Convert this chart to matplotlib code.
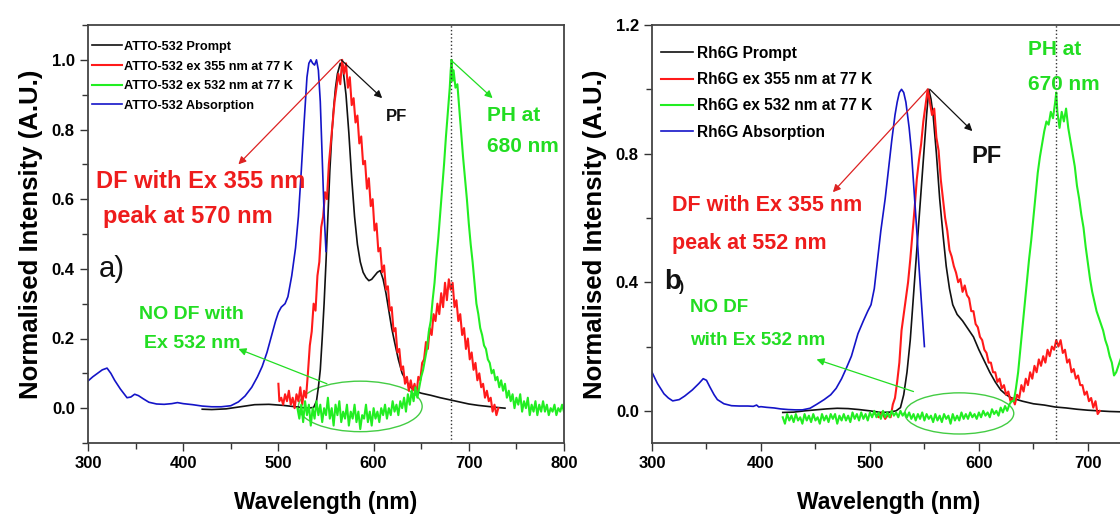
import matplotlib
matplotlib.use("Agg")
import matplotlib.pyplot as plt
from matplotlib.patches import Ellipse
from matplotlib.ticker import MultipleLocator

plt.rcParams['font.family'] = ['Liberation Sans', 'DejaVu Sans']
plt.rcParams['font.weight'] = 'bold'

# ===== panel a) ATTO-532 =====
atto_abs_nm = [300, 305, 310, 315, 320, 324, 328, 334, 341, 345, 349, 353, 358, 364, 372, 380, 388, 394, 400,
               410, 420, 430, 440, 450, 458, 465, 472, 478, 483, 488, 493, 497, 500, 503, 507, 510, 514, 518,
               521, 524, 527, 530, 532, 534, 536, 538, 540, 542, 544, 546, 548, 550]
atto_abs = [0.078, 0.09, 0.10, 0.11, 0.115, 0.10, 0.08, 0.055, 0.03, 0.032, 0.04, 0.036, 0.027, 0.017, 0.012,
            0.011, 0.013, 0.016, 0.013, 0.010, 0.006, 0.004, 0.004, 0.007, 0.018, 0.035, 0.06, 0.09, 0.12, 0.16,
            0.21, 0.25, 0.275, 0.29, 0.30, 0.32, 0.38, 0.46, 0.55, 0.68, 0.82, 0.95, 0.99, 1.0, 0.99, 0.985, 1.0,
            0.97, 0.88, 0.72, 0.56, 0.45]

atto_prompt_nm = [420, 430, 445, 460, 475, 490, 505, 518, 530, 537, 540, 542, 544, 546, 548, 550, 552, 554, 556,
                  558, 560, 562, 565, 568, 571, 574, 577, 580, 583, 586, 589, 592, 595, 598, 601, 604, 607, 610,
                  613, 616, 619, 622, 626, 630, 635, 640, 645, 650, 660, 670, 680, 690, 700, 710, 720, 730, 738]
atto_prompt = [-0.003, -0.004, -0.002, 0.004, 0.010, 0.011, 0.008, 0.004, 0.0, 0.002, 0.02, 0.06, 0.11, 0.20,
               0.30, 0.42, 0.55, 0.68, 0.78, 0.86, 0.92, 0.96, 0.99, 0.97, 0.90, 0.79, 0.66, 0.55, 0.47, 0.42,
               0.39, 0.375, 0.366, 0.37, 0.38, 0.39, 0.395, 0.37, 0.33, 0.28, 0.23, 0.19, 0.14, 0.10, 0.075,
               0.057, 0.048, 0.043, 0.037, 0.030, 0.024, 0.018, 0.012, 0.008, 0.005, 0.002, 0.0]

atto_355_nm = [500, 501, 503, 505, 507, 509, 511, 513, 515, 517, 519, 521, 523, 525, 527, 529, 531, 533, 535,
               537, 539, 541, 543, 545, 547, 549, 551, 553, 555, 557, 559, 561, 563, 565, 567, 569, 571, 573,
               575, 577, 579, 581, 583, 585, 587, 589, 591, 593, 595, 597, 599, 601, 603, 605, 607, 609, 611,
               613, 615, 617, 619, 621, 623, 625, 627, 629, 631, 633, 635, 637, 639, 641, 643, 645, 647, 649,
               651, 653, 655, 657, 659, 661, 663, 665, 667, 669, 671, 673, 675, 677, 679, 681, 683, 685, 687,
               689, 691, 693, 695, 697, 699, 701, 703, 705, 707, 709, 711, 713, 715, 717, 719, 721, 723, 725,
               727, 729, 731]
atto_355 = [0.07, 0.02, 0.03, 0.01, 0.04, 0.02, 0.05, 0.01, 0.03, 0.0, 0.04, 0.02, 0.06, 0.01, 0.05, 0.03, 0.10,
            0.18, 0.22, 0.30, 0.28, 0.38, 0.42, 0.52, 0.55, 0.62, 0.60, 0.70, 0.76, 0.82, 0.88, 0.92, 0.96, 0.93,
            1.0, 0.96, 0.99, 0.92, 0.95, 0.87, 0.89, 0.82, 0.84, 0.76, 0.78, 0.70, 0.71, 0.63, 0.66, 0.58, 0.60,
            0.51, 0.53, 0.45, 0.46, 0.39, 0.41, 0.34, 0.35, 0.28, 0.29, 0.22, 0.23, 0.16, 0.17, 0.11, 0.12, 0.07,
            0.09, 0.05, 0.08, 0.05, 0.07, 0.04, 0.09, 0.08, 0.13, 0.14, 0.19, 0.17, 0.23, 0.21, 0.27, 0.25, 0.30,
            0.27, 0.33, 0.29, 0.36, 0.31, 0.37, 0.34, 0.36, 0.29, 0.31, 0.25, 0.27, 0.21, 0.23, 0.17, 0.20, 0.14,
            0.16, 0.11, 0.13, 0.08, 0.10, 0.06, 0.07, 0.03, 0.05, 0.02, 0.03, -0.01, 0.01, -0.02, 0.0]

atto_532_nm = [520, 522, 524, 526, 528, 530, 532, 534, 536, 538, 540, 542, 544, 546, 548, 550, 552, 554, 556,
               558, 560, 562, 564, 566, 568, 570, 572, 574, 576, 578, 580, 582, 584, 586, 588, 590, 592, 594,
               596, 598, 600, 602, 604, 606, 608, 610, 612, 614, 616, 618, 620, 622, 624, 626, 628, 630, 632,
               634, 636, 638, 640, 642, 644, 646, 648, 650, 652, 654, 656, 658, 660, 662, 664, 666, 668, 670,
               672, 674, 676, 678, 680, 681, 682, 683, 684, 686, 688, 690, 692, 694, 696, 698, 700, 702, 704,
               706, 708, 710, 712, 714, 716, 718, 720, 722, 724, 726, 728, 730, 732, 734, 736, 738, 740, 742,
               744, 746, 748, 750, 752, 754, 756, 758, 760, 762, 764, 766, 768, 770, 772, 774, 776, 778, 780,
               782, 784, 786, 788, 790, 792, 794, 796, 798, 800]
atto_532 = [0.0, -0.03, 0.01, -0.04, 0.02, -0.02, 0.01, -0.05, 0.0, -0.03, 0.02, -0.02, 0.01, -0.04, 0.0, -0.02,
            0.03, -0.03, 0.0, -0.05, 0.01, -0.02, 0.02, -0.04, -0.01, -0.03, 0.01, -0.05, -0.01, -0.03, 0.01,
            -0.04, -0.01, -0.06, -0.02, -0.03, 0.01, -0.04, -0.01, -0.05, 0.0, -0.03, -0.01, -0.04, 0.0, -0.02,
            0.01, -0.03, 0.0, -0.02, 0.02, -0.01, 0.01, -0.02, 0.02, 0.0, 0.03, -0.01, 0.04, 0.01, 0.05, 0.02,
            0.06, 0.03, 0.06, 0.09, 0.11, 0.14, 0.17, 0.22, 0.25, 0.31, 0.36, 0.43, 0.49, 0.56, 0.63, 0.70, 0.78,
            0.85, 0.92, 0.97, 1.0, 0.94, 0.97, 0.92, 0.93, 0.86, 0.79, 0.72, 0.66, 0.60, 0.53, 0.47, 0.42, 0.36,
            0.30, 0.27, 0.23, 0.21, 0.18, 0.17, 0.14, 0.13, 0.10, 0.11, 0.08, 0.09, 0.06, 0.08, 0.05, 0.07, 0.03,
            0.05, 0.02, 0.04, 0.0, 0.03, 0.01, 0.04, -0.01, 0.02, 0.0, 0.03, -0.02, 0.01, -0.01, 0.02, -0.02,
            0.01, -0.01, 0.02, -0.01, 0.01, -0.02, 0.0, -0.01, 0.01, -0.02, 0.0, -0.01, 0.01, -0.01]

# ===== panel b) Rh6G =====
rh_abs_nm = [300, 305, 311, 315, 319, 325, 330, 337, 343, 347, 350, 353, 357, 360, 366, 373, 380, 388, 393, 396,
             398, 400, 405, 412, 418, 425, 432, 438, 445, 451, 458, 464, 469, 474, 478, 483, 489, 494, 498, 501,
             504, 507, 510, 514, 517, 520, 523, 525, 527, 529, 531, 533, 536, 538, 541, 543, 545, 547, 550]
rh_abs = [0.12, 0.085, 0.053, 0.04, 0.031, 0.035, 0.046, 0.065, 0.085, 0.10, 0.095, 0.075, 0.05, 0.035, 0.022,
          0.016, 0.015, 0.015, 0.014, 0.018, 0.012, 0.013, 0.011, 0.009, 0.006, 0.004, 0.003, 0.003, 0.008, 0.02,
          0.035, 0.05, 0.07, 0.10, 0.13, 0.17, 0.24, 0.28, 0.31, 0.33, 0.38, 0.47, 0.56, 0.66, 0.75, 0.84, 0.92,
          0.96, 0.99, 1.0, 0.99, 0.96, 0.88, 0.81, 0.66, 0.56, 0.45, 0.35, 0.2]

rh_prompt_nm = [420, 430, 440, 450, 460, 470, 480, 490, 500, 510, 518, 524, 528, 531, 534, 537, 540, 543, 546,
                549, 552, 554, 556, 558, 561, 564, 567, 570, 573, 576, 580, 585, 590, 595, 600, 605, 610, 615,
                620, 625, 630, 640, 650, 660, 670, 680, 690, 700, 710, 720, 730, 745]
rh_prompt = [-0.005, -0.004, 0.0, 0.003, 0.006, 0.008, 0.007, 0.004, 0.0, -0.005, -0.004, 0.0, 0.01, 0.05, 0.12,
             0.22, 0.36, 0.5, 0.64, 0.78, 0.92, 1.0, 0.97, 0.92, 0.8, 0.66, 0.55, 0.45, 0.38, 0.33, 0.30, 0.28,
             0.255, 0.23, 0.19, 0.155, 0.12, 0.09, 0.065, 0.05, 0.04, 0.03, 0.022, 0.018, 0.012, 0.009, 0.005,
             0.002, 0.0, -0.002, -0.003, -0.004]

rh_355_nm = [505, 508, 511, 514, 517, 519, 521, 523, 525, 527, 529, 531, 533, 535, 537, 539, 541, 543, 545, 547,
             549, 551, 553, 555, 557, 559, 561, 563, 565, 567, 569, 571, 573, 575, 577, 579, 581, 583, 585, 587,
             589, 591, 593, 595, 597, 599, 601, 603, 605, 607, 609, 611, 613, 615, 617, 619, 621, 623, 625, 627,
             629, 631, 633, 635, 637, 639, 641, 643, 645, 647, 649, 651, 653, 655, 657, 659, 661, 663, 665, 667,
             669, 671, 673, 675, 677, 679, 681, 683, 685, 687, 689, 691, 693, 695, 697, 699, 701, 703, 705, 707,
             709, 711]
rh_355 = [-0.01, -0.02, -0.005, -0.025, -0.01, -0.02, 0.02, 0.04, 0.09, 0.15, 0.25, 0.30, 0.35, 0.40, 0.47, 0.55,
          0.63, 0.72, 0.78, 0.83, 0.90, 0.95, 1.0, 0.96, 0.92, 0.94, 0.85, 0.81, 0.72, 0.66, 0.60, 0.56, 0.50,
          0.48, 0.45, 0.43, 0.40, 0.41, 0.37, 0.39, 0.36, 0.35, 0.31, 0.31, 0.27, 0.26, 0.23, 0.22, 0.19, 0.18,
          0.15, 0.15, 0.12, 0.12, 0.09, 0.10, 0.07, 0.08, 0.05, 0.06, 0.03, 0.04, 0.02, 0.05, 0.04, 0.08, 0.06,
          0.10, 0.08, 0.12, 0.10, 0.14, 0.12, 0.16, 0.14, 0.17, 0.15, 0.19, 0.17, 0.20, 0.19, 0.22, 0.20, 0.22,
          0.18, 0.19, 0.15, 0.16, 0.12, 0.13, 0.10, 0.11, 0.08, 0.08, 0.05, 0.06, 0.03, 0.04, 0.01, 0.03, -0.01,
          0.0]

rh_532_nm = [420, 422, 424, 426, 428, 430, 432, 434, 436, 438, 440, 442, 444, 446, 448, 450, 452, 454, 456, 458,
             460, 462, 464, 466, 468, 470, 472, 474, 476, 478, 480, 482, 484, 486, 488, 490, 492, 494, 496, 498,
             500, 502, 504, 506, 508, 510, 512, 514, 516, 518, 520, 522, 524, 526, 528, 530, 532, 534, 536, 538,
             540, 542, 544, 546, 548, 550, 552, 554, 556, 558, 560, 562, 564, 566, 568, 570, 572, 574, 576, 578,
             580, 582, 584, 586, 588, 590, 592, 594, 596, 598, 600, 602, 604, 606, 608, 610, 612, 614, 616, 618,
             620, 622, 624, 626, 628, 630, 632, 634, 636, 638, 640, 642, 644, 646, 648, 650, 652, 654, 656, 658,
             660, 662, 664, 666, 668, 670, 671, 672, 674, 676, 678, 680, 682, 684, 686, 688, 690, 692, 694, 696,
             698, 700, 702, 704, 706, 708, 710, 712, 714, 716, 718, 720, 722, 724, 726, 728, 730, 732]
rh_532 = [-0.02, -0.04, -0.01, -0.03, -0.015, -0.035, -0.01, -0.03, -0.02, -0.04, -0.01, -0.03, -0.015, -0.035,
          -0.01, -0.03, -0.02, -0.04, -0.01, -0.03, -0.015, -0.035, -0.01, -0.025, -0.01, -0.04, -0.015, -0.03,
          -0.01, -0.03, -0.015, -0.035, -0.005, -0.025, -0.01, -0.03, -0.005, -0.025, -0.01, -0.03, -0.005,
          -0.02, 0.0, -0.02, -0.005, -0.025, 0.0, -0.02, -0.005, -0.02, 0.0, -0.015, -0.005, -0.02, 0.0, -0.015,
          -0.005, -0.02, -0.005, -0.025, -0.01, -0.03, -0.01, -0.025, -0.005, -0.03, -0.01, -0.025, -0.015,
          -0.035, -0.01, -0.03, -0.015, -0.035, -0.01, -0.025, -0.015, -0.04, -0.01, -0.03, -0.015, -0.03,
          -0.005, -0.025, -0.01, -0.025, -0.005, -0.02, -0.01, -0.025, -0.005, -0.02, 0.0, -0.015, -0.005, -0.02,
          0.005, -0.01, 0.0, -0.015, 0.01, -0.005, 0.015, 0.0, 0.02, 0.03, 0.03, 0.07, 0.12, 0.19, 0.26, 0.33,
          0.40, 0.47, 0.53, 0.60, 0.67, 0.74, 0.79, 0.83, 0.87, 0.90, 0.89, 0.93, 0.91, 0.96, 0.99, 0.93, 0.88,
          0.93, 0.90, 0.94, 0.88, 0.84, 0.80, 0.76, 0.70, 0.66, 0.61, 0.57, 0.51, 0.46, 0.41, 0.37, 0.34, 0.31,
          0.29, 0.27, 0.25, 0.22, 0.20, 0.17, 0.15, 0.11, 0.12, 0.14, 0.16, 0.18]

C_BLACK = '#111111'
C_RED = '#ff1a1a'
C_GREEN = '#22ee22'
C_BLUE = '#1414c8'
C_TXT_GREEN = '#22dd22'
C_TXT_RED = '#ee1c1c'
LW = 1.2
LW_NOISY = 1.5

fig = plt.figure(figsize=(11.2, 5.17), dpi=100)
ax1 = fig.add_axes([88 / 1120, 74 / 517, 476 / 1120, 418 / 517])
ax2 = fig.add_axes([652 / 1120, 74 / 517, 474 / 1120, 418 / 517])


def style_axes(ax, xlim, ylim, ymaj, ymin):
    ax.set_xlim(*xlim)
    ax.set_ylim(*ylim)
    ax.xaxis.set_major_locator(MultipleLocator(100))
    ax.xaxis.set_minor_locator(MultipleLocator(50))
    ax.yaxis.set_major_locator(MultipleLocator(ymaj))
    ax.yaxis.set_minor_locator(MultipleLocator(ymin))
    ax.tick_params(which='both', direction='out', width=1.0, color='#333333', labelsize=12)
    ax.tick_params(which='major', length=6)
    ax.tick_params(which='minor', length=4)
    for sp in ax.spines.values():
        sp.set_linewidth(1.3)
        sp.set_color('#444444')
    ax.set_ylabel('Normalised Intensity (A.U.)', fontsize=18.5, fontweight='bold', labelpad=6)
    ax.set_xlabel('Wavelength (nm)', fontsize=16.5, fontweight='bold', labelpad=14)


def arrow(ax, start, end, color, lw=0.9):
    ax.annotate('', xy=end, xytext=start,
                arrowprops=dict(arrowstyle='-|>', color=color, lw=lw, mutation_scale=11,
                                shrinkA=0, shrinkB=0))


# ----- panel a -----
ax1.plot(atto_prompt_nm, atto_prompt, color=C_BLACK, lw=LW, label='ATTO-532 Prompt')
ax1.plot(atto_355_nm, atto_355, color=C_RED, lw=LW_NOISY, label='ATTO-532 ex 355 nm at 77 K')
ax1.plot(atto_532_nm, atto_532, color=C_GREEN, lw=LW_NOISY, label='ATTO-532 ex 532 nm at 77 K')
ax1.plot(atto_abs_nm, atto_abs, color=C_BLUE, lw=LW, label='ATTO-532 Absorption')
ax1.axvline(681, ls=':', color='#333333', lw=1.0)
style_axes(ax1, (300, 800), (-0.1, 1.1), 0.2, 0.1)
ax1.legend(loc='upper left', bbox_to_anchor=(0.008, 0.962), frameon=False, fontsize=9.2,
           handlelength=2.4, handletextpad=0.15, labelspacing=0.6, borderpad=0, borderaxespad=0)

arrow(ax1, (565, 1.0), (458, 0.70), '#dd2222')
arrow(ax1, (566, 1.0), (609, 0.89), C_BLACK)
arrow(ax1, (681, 1.0), (725, 0.89), C_TXT_GREEN)
arrow(ax1, (551, 0.07), (458, 0.17), C_TXT_GREEN)
ax1.add_patch(Ellipse((586, 0.005), 130, 0.145, fill=False, ec='#44cc44', lw=1.0))

ax1.text(418, 0.65, 'DF with Ex 355 nm', color=C_TXT_RED, fontsize=17, ha='center', va='center')
ax1.text(405, 0.55, 'peak at 570 nm', color=C_TXT_RED, fontsize=17, ha='center', va='center')
ax1.text(624, 0.838, 'PF', color=C_BLACK, fontsize=12, ha='center', va='center')
ax1.text(719, 0.84, 'PH at', color=C_TXT_GREEN, fontsize=15, ha='left', va='center')
ax1.text(719, 0.752, '680 nm', color=C_TXT_GREEN, fontsize=15, ha='left', va='center')
ax1.text(409, 0.27, 'NO DF with', color=C_TXT_GREEN, fontsize=14, ha='center', va='center')
ax1.text(410, 0.187, 'Ex 532 nm', color=C_TXT_GREEN, fontsize=14, ha='center', va='center')
ax1.text(311, 0.40, 'a)', color=C_BLACK, fontsize=21, fontweight='normal', ha='left', va='center')

# ----- panel b -----
ax2.plot(rh_prompt_nm, rh_prompt, color=C_BLACK, lw=LW, label='Rh6G Prompt')
ax2.plot(rh_355_nm, rh_355, color=C_RED, lw=LW_NOISY, label='Rh6G ex 355 nm at 77 K')
ax2.plot(rh_532_nm, rh_532, color=C_GREEN, lw=LW_NOISY, label='Rh6G ex 532 nm at 77 K')
ax2.plot(rh_abs_nm, rh_abs, color=C_BLUE, lw=LW, label='Rh6G Absorption')
ax2.axvline(671, ls=':', color='#333333', lw=1.0)
style_axes(ax2, (300, 735), (-0.1, 1.2), 0.4, 0.2)
ax2.legend(loc='upper left', bbox_to_anchor=(0.02, 0.95), frameon=False, fontsize=11.2,
           handlelength=2.0, handletextpad=0.3, labelspacing=0.72, borderpad=0, borderaxespad=0)

arrow(ax2, (553, 1.0), (466, 0.68), '#dd2222')
arrow(ax2, (555, 1.0), (594, 0.87), C_BLACK)
arrow(ax2, (540, 0.06), (451, 0.16), C_TXT_GREEN)
ax2.add_patch(Ellipse((582, -0.008), 100, 0.128, fill=False, ec='#44cc44', lw=1.0))

ax2.text(607, 0.79, 'PF', color=C_BLACK, fontsize=17, ha='center', va='center')
ax2.text(318, 0.64, 'DF with Ex 355 nm', color=C_TXT_RED, fontsize=15.5, ha='left', va='center')
ax2.text(318, 0.52, 'peak at 552 nm', color=C_TXT_RED, fontsize=15.5, ha='left', va='center')
ax2.text(645, 1.125, 'PH at', color=C_TXT_GREEN, fontsize=15, ha='left', va='center')
ax2.text(645, 1.015, '670 nm', color=C_TXT_GREEN, fontsize=15, ha='left', va='center')
ax2.text(335, 0.32, 'NO DF', color=C_TXT_GREEN, fontsize=13.5, ha='left', va='center')
ax2.text(335, 0.22, 'with Ex 532 nm', color=C_TXT_GREEN, fontsize=13.5, ha='left', va='center')
ax2.text(311, 0.40, 'b', color=C_BLACK, fontsize=20, ha='left', va='center')
ax2.text(324.5, 0.385, ')', color=C_BLACK, fontsize=11, ha='left', va='center')

fig.savefig('out.png', dpi=100)
